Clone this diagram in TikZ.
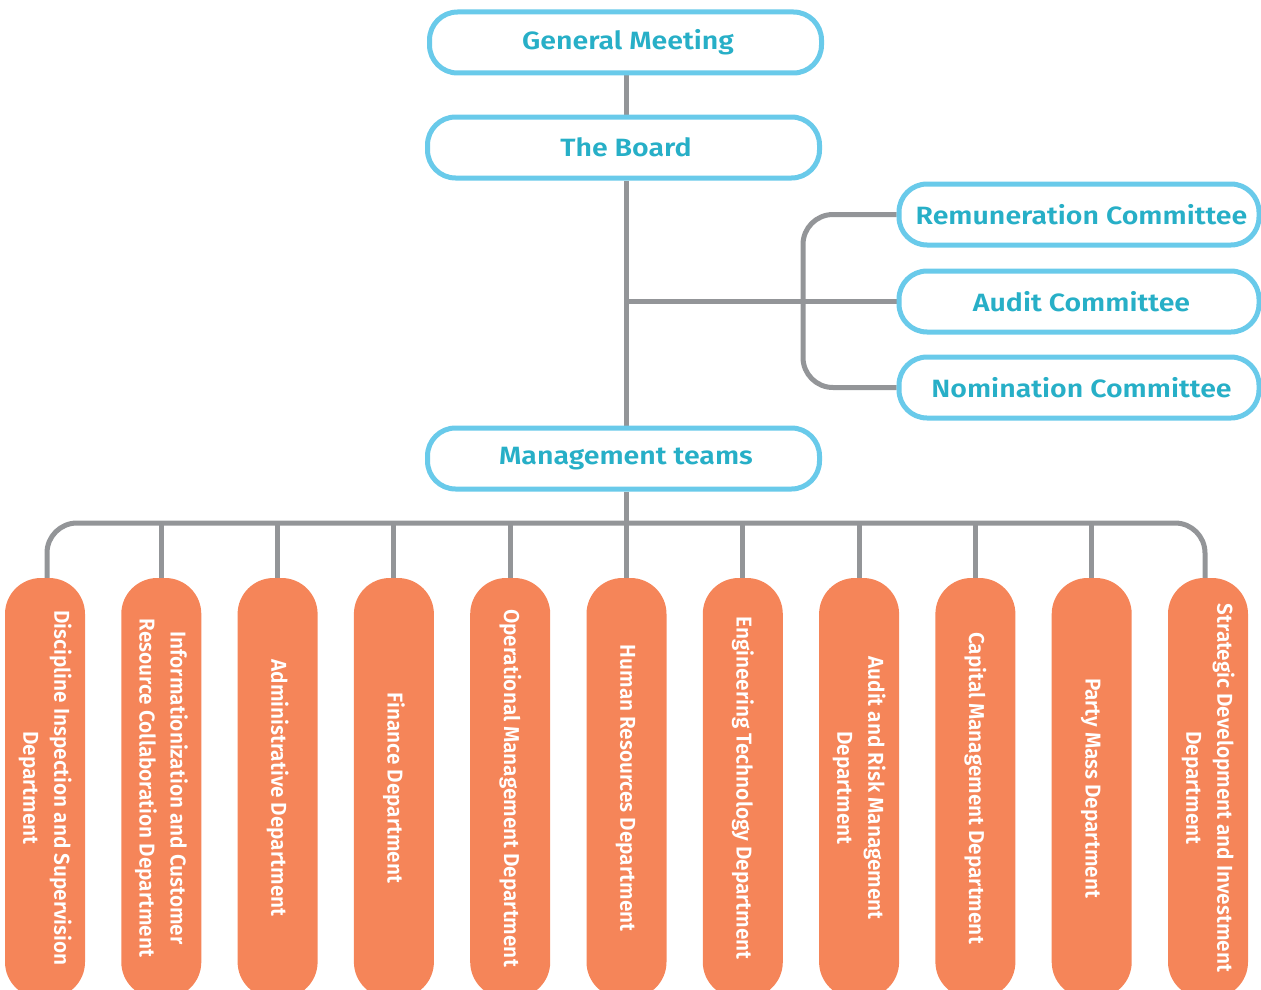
\documentclass[tikz,border=0pt]{standalone}
\usepackage{fontspec}
\setmainfont{Fira Sans}[BoldFont={Fira Sans SemiBold}]
\newfontfamily\pillfont{Fira Sans}[UprightFont={Fira Sans SemiBold}]
\usetikzlibrary{backgrounds}
\definecolor{boxblue}{HTML}{69CAEA}
\definecolor{txtblue}{HTML}{27AFC7}
\definecolor{linegray}{HTML}{939598}
\definecolor{pillorange}{HTML}{F58559}
\newcommand\vtext[1]{\rotatebox{-90}{\scalebox{0.965}[1]{\fontsize{21.5}{31}\pillfont\begin{tabular}{@{}c@{}}#1\end{tabular}}}}
\newcommand\tb[1]{\hspace*{5pt}\scalebox{1.14}[1]{#1}}
\tikzset{
  topbox/.style={draw=boxblue, line width=5pt, fill=white, rounded corners=28pt,
    minimum width=392pt, minimum height=61pt, inner sep=0pt,
    text=txtblue, font=\fontsize{25}{28}\selectfont\bfseries},
  combox/.style={topbox, minimum width=360pt},
  pill/.style={fill=pillorange, rounded corners=36pt, minimum width=80pt,
    minimum height=420pt, inner sep=0pt, text=white},
  conn/.style={draw=linegray, line width=5pt},
}
\begin{document}
\begin{tikzpicture}[x=1pt,y=-1pt]
\useasboundingbox (0,0) rectangle (1261,990);
\clip (0,0) rectangle (1261,990);
% top nodes
\node[topbox] (gm) at (625.5,42.5) {\tb{General Meeting}};
\node[topbox] (board) at (623.5,147.5) {\tb{The Board}};
\node[topbox] (mgmt) at (623.5,458.5) {\tb{Management teams}};
\node[combox] (rem) at (1079,214.5) {\tb{Remuneration Committee}};
\node[combox] (aud) at (1079,301.5) {\tb{Audit Committee}};
\node[combox] (nom) at (1079,387.5) {\tb{Nomination Committee}};
\coordinate (trunk) at (626,301.5);
\coordinate (bk) at (803,301.5);
\coordinate (bus) at (626,523);
% departments
\node[pill] (d1) at (45,788) {\vtext{Discipline Inspection and Supervision\\Department}};
\node[pill] (d2) at (161.3,788) {\vtext{Informationization and Customer\\Resource Collaboration Department}};
\node[pill] (d3) at (277.6,788) {\vtext{Administrative Department}};
\node[pill] (d4) at (393.9,788) {\vtext{Finance Department}};
\node[pill] (d5) at (510.2,788) {\vtext{Operational Management Department}};
\node[pill] (d6) at (626.5,788) {\vtext{Human Resources Department}};
\node[pill] (d7) at (742.8,788) {\vtext{Engineering Technology Department}};
\node[pill] (d8) at (859.1,788) {\vtext{Audit and Risk Management\\Department}};
\node[pill] (d9) at (975.4,788) {\vtext{Capital Management Department}};
\node[pill] (d10) at (1091.7,788) {\vtext{Party Mass Department}};
\node[pill] (d11) at (1208,788) {\vtext{Strategic Development and Investment\\Department}};
% connectors
\begin{scope}[on background layer]
\draw[conn] (gm.south -| trunk) -- (board.north -| trunk);
\draw[conn] (board.south -| trunk) -- (mgmt.north -| trunk);
\draw[conn] (trunk) -- (aud.west);
\draw[conn, rounded corners=30pt] (rem.west) -| (bk) |- (nom.west);
\draw[conn] (mgmt.south -| bus) -- (bus);
\draw[conn, rounded corners=30pt] ([xshift=2pt]d1.north) |- (bus) -| ([xshift=-3pt]d11.north);
\foreach \i in {2,...,10}{
  \draw[conn] (d\i.north) -- (d\i.north |- bus);
}
\end{scope}
\end{tikzpicture}
\end{document}
